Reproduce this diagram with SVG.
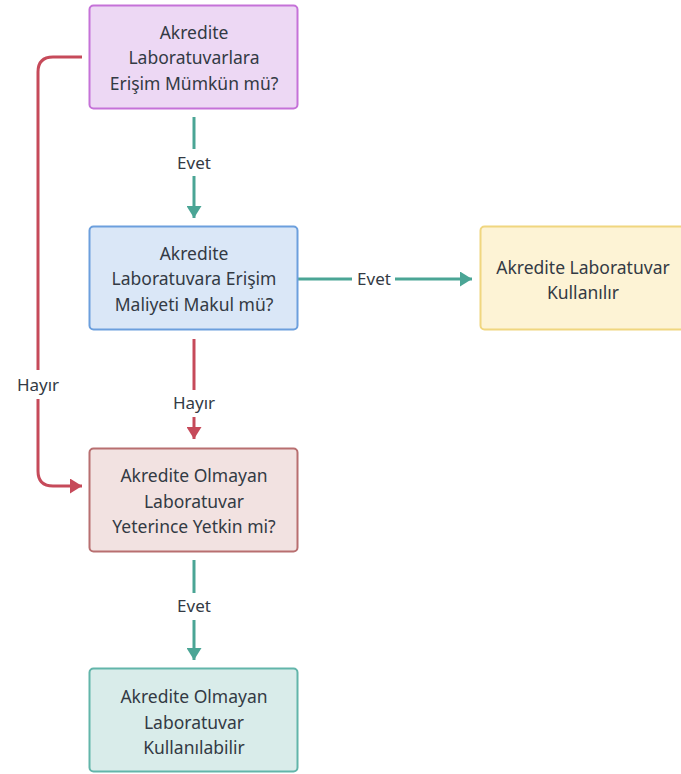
<svg xmlns="http://www.w3.org/2000/svg" width="681" height="774" viewBox="0 0 681 774">
<style>
.node text{font-family:"Noto Sans","DejaVu Sans",sans-serif;font-size:17.5px;fill:#333a44;text-anchor:middle}
.lbl{font-family:"Noto Sans","DejaVu Sans",sans-serif;font-size:17px;fill:#333a44;text-anchor:middle}
.g{stroke:#4aa595;stroke-width:3;fill:none}
.r{stroke:#c64a5a;stroke-width:3;fill:none}
</style>
<defs>
<marker id="ag" viewBox="0 0 8 10" refX="8" refY="5" markerWidth="4" markerHeight="5" markerUnits="strokeWidth" orient="auto"><path d="M0,0L8,5L0,10z" fill="#4aa595"/></marker>
<marker id="ar" viewBox="0 0 8 10" refX="8" refY="5" markerWidth="4" markerHeight="5" markerUnits="strokeWidth" orient="auto"><path d="M0,0L8,5L0,10z" fill="#c64a5a"/></marker>
</defs>
<rect width="681" height="774" fill="#ffffff"/>
<g id="connectors">
<path class="g" d="M194,117V218" marker-end="url(#ag)"/>
<rect x="170" y="149" width="48" height="27" fill="#fff"/>
<text class="lbl" x="194" y="169">Evet</text>
<path class="g" d="M298,279H472" marker-end="url(#ag)"/>
<rect x="352" y="266" width="43" height="26" fill="#fff"/>
<text class="lbl" x="374" y="285">Evet</text>
<path class="r" d="M194,339V439" marker-end="url(#ar)"/>
<rect x="166" y="390" width="56" height="27" fill="#fff"/>
<text class="lbl" x="194" y="409">Hayır</text>
<path class="r" d="M82,57H53Q38,57 38,72V471Q38,486 53,486H82" marker-end="url(#ar)"/>
<rect x="10" y="370" width="56" height="29" fill="#fff"/>
<text class="lbl" x="38" y="391">Hayır</text>
<path class="g" d="M194,560V660" marker-end="url(#ag)"/>
<rect x="170" y="593" width="48" height="27" fill="#fff"/>
<text class="lbl" x="194" y="612">Evet</text>
</g>
<g id="n1" class="node">
<rect x="89.5" y="5.5" width="208" height="103" rx="4" fill="#edd8f4" stroke="#c572d8" stroke-width="2"/>
<text x="194" y="39">Akredite</text>
<text x="194" y="64">Laboratuvarlara</text>
<text x="194" y="90">Erişim Mümkün mü?</text>
</g>
<g id="n2" class="node">
<rect x="89.5" y="226.5" width="208" height="103" rx="4" fill="#dae7f7" stroke="#6c9fdd" stroke-width="2"/>
<text x="194" y="260">Akredite</text>
<text x="194" y="285">Laboratuvara Erişim</text>
<text x="194" y="311">Maliyeti Makul mü?</text>
</g>
<g id="n3" class="node">
<rect x="480.5" y="226.5" width="208" height="103" rx="4" fill="#fdf3d5" stroke="#f0d67f" stroke-width="2"/>
<text x="583" y="274">Akredite Laboratuvar</text>
<text x="583" y="299">Kullanılır</text>
</g>
<g id="n4" class="node">
<rect x="89.5" y="448.5" width="208" height="103" rx="4" fill="#f2e2e1" stroke="#b86f70" stroke-width="2"/>
<text x="194" y="482">Akredite Olmayan</text>
<text x="194" y="508">Laboratuvar</text>
<text x="194" y="533">Yeterince Yetkin mi?</text>
</g>
<g id="n5" class="node">
<rect x="89.5" y="668.5" width="208" height="103" rx="4" fill="#d9ecea" stroke="#62b5aa" stroke-width="2"/>
<text x="194" y="703">Akredite Olmayan</text>
<text x="194" y="729">Laboratuvar</text>
<text x="194" y="754">Kullanılabilir</text>
</g>
</svg>
